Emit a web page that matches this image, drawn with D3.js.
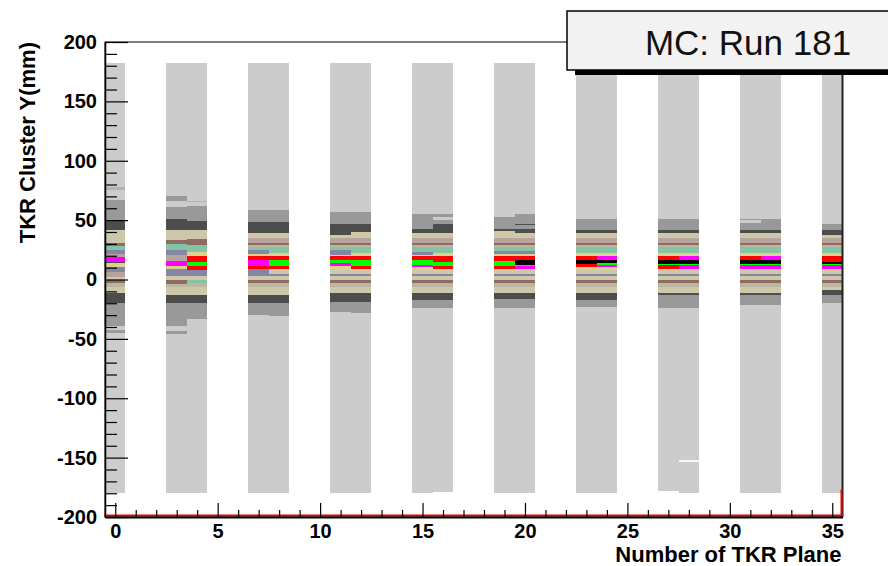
<!DOCTYPE html>
<html>
<head>
<meta charset="utf-8">
<script src="https://cdn.jsdelivr.net/npm/d3@7"></script>
<style>
  html, body { margin: 0; padding: 0; background: #fff; }
  svg { display: block; font-family: "Liberation Sans", Arial, Helvetica, sans-serif; }
  .axis .tick text { font-weight: bold; font-size: 20px; fill: #000; }
  .axis .tick line, .axis path { stroke: #000; }
</style>
</head>
<body>
<div id="chart"></div>
<script>
// TKR cluster Y vs TKR plane number, MC run 181.
// 2D histogram drawn ROOT "colz" style: each plane is one x bin,
// bands of y carry an entry count that maps to a palette colour.

const planes = [0, 3, 4, 7, 8, 11, 12, 15, 16, 19, 20, 23, 24, 27, 28, 31, 32, 35];

// low-count coverage of each plane (mm)
const coverLo = [-180, -180, -180, -180, -180, -180, -180, -180, -179, -180, -180, -180, -180, -178, -180, -180, -180, -180];
const coverHi = [182, 182, 182, 182, 182, 182, 182, 182, 182, 182, 182, 182, 182, 182, 182, 182, 182, 182];
// mid gray halo
const grayLo = [-45, -46, -33, -30, -31, -27, -28, -24, -24, -24, -24, -23, -23, -24, -24, -21.5, -21.5, -20];
const grayHi = [67, 70, 62, 58.5, 58.5, 57, 57, 55, 55, 55, 55, 50.7, 50.7, 50.7, 50.7, 51, 51, 46.5];
// dark gray shoulder
const darkLo = [-20, -20, -20, -20, -20, -18.7, -18.7, -17.3, -17.3, -16.7, -16.7, -17.3, -17.3, -13, -13, -13, -13, -13];
const darkHi = [50, 50.7, 49.6, 48.6, 48.7, 46.6, 46.6, 42.3, 46.6, 42.3, 42.3, 41.7, 41.7, 41.7, 41.7, 41.7, 41.7, 41.7];

const coverCount = 25;
const grayCount = 45;
const darkCount = 55;

// central band structure common to the planes: [yLow, yHigh, counts]
const coreBands = [
  [-11.6, -6.6, 65],
  [-6.6, -3.2, 75],
  [-3.2, -0.4, 95],
  [-0.4, 3.0, 65],
  [3.0, 4.6, 115],
  [4.6, 8.3, 65],
  [8.3, 10.5, 125],
  [10.5, 20.0, 135],
  [20.0, 22.7, 125],
  [22.7, 27.6, 105],
  [27.6, 29.1, 75],
  [29.1, 30.5, 95],
  [30.5, 34.7, 85],
  [34.7, 38.9, 65]
];

// plane specific bands, same order as planes
const planeBands = [
  // 0
  [[75.4, 77.6, 35], [-42.3, -39.5, 25], [30.5, 41.7, 65], [28.2, 30.5, 95], [24.8, 28.2, 105], [21.4, 24.8, 115],
   [18.7, 21.4, 85], [15, 18.7, 145], [13.6, 15, 55], [10.2, 13.6, 125], [5.9, 10.2, 115], [1.7, 5.9, 85]],
  // 3
  [[61.3, 66.3, 25], [33.3, 41.7, 65], [29.9, 33.3, 95], [24.8, 29.9, 105], [20.6, 24.8, 115], [15.6, 20.6, 85],
   [11.4, 15.6, 145], [8.6, 11.4, 125], [3.8, 8.6, 115], [-3.8, -0.4, 95], [-13, -11.6, 65], [-43.7, -39.5, 25]],
  // 4
  [[64.9, 66.3, 35], [33.8, 41.7, 65], [29, 33.8, 95], [23.4, 29, 105], [19.8, 23.4, 125], [15, 19.8, 135],
   [11.4, 15, 155], [8, 11.4, 135], [3.8, 8, 115], [-3.2, -0.4, 105], [-13, -11.6, 65]],
  // 7
  [[21.4, 24.8, 115], [16.4, 19.8, 135], [11.4, 16.4, 145], [8.6, 11.4, 135], [3.8, 8.6, 115], [-13, -11.6, 65]],
  // 8
  [[16.4, 19.8, 135], [11.4, 16.4, 155], [8.6, 11.4, 135], [-13, -11.6, 65]],
  // 11
  [[37.7, 38.9, 55], [20.6, 24.8, 115], [16.4, 19.2, 135], [13.6, 16.4, 155], [11.4, 13.6, 145], [8, 11.4, 125]],
  // 12
  [[38.9, 39.7, 65], [16.4, 19.2, 135], [11.4, 16.4, 155], [8.7, 11.4, 135]],
  // 15
  [[20.6, 23.4, 115], [16.4, 19.8, 135], [12.2, 16.4, 155], [10.2, 12.2, 145]],
  // 16
  [[50.1, 52.9, 25], [15, 19.8, 135], [11.4, 15, 155], [8.6, 11.4, 135]],
  // 19
  [[52.9, 54.9, 25], [38.9, 41.2, 65], [21.4, 24.4, 115], [15.3, 19.8, 135], [11.4, 15.3, 155], [8.6, 11.4, 135]],
  // 20
  [[45.5, 46.6, 55], [21.4, 24.4, 115], [16.4, 19.8, 135], [12.5, 16.4, 165], [11.4, 12.5, 155], [8.6, 11.4, 145]],
  // 23
  [[16.7, 19.6, 135], [12.8, 16.7, 165], [10.5, 12.8, 135]],
  // 24
  [[16.4, 19.6, 145], [13.6, 16.4, 165], [12.2, 13.6, 155], [10.5, 12.2, 145]],
  // 27
  [[16.4, 19.8, 135], [13, 16.4, 165], [11.9, 13, 155], [8.6, 11.9, 135]],
  // 28
  [[-153.5, -152, 5], [16.4, 19.8, 145], [13, 16.4, 165], [11.9, 13, 155], [8.6, 11.9, 145]],
  // 31
  [[47.5, 50.5, 25], [16.4, 19.8, 135], [13, 16.4, 165], [11.9, 13, 155], [8.6, 11.9, 145]],
  // 32
  [[16.4, 19.8, 145], [13, 16.4, 165], [11.9, 13, 155], [8.6, 11.9, 145]],
  // 35
  [[37.5, 38.9, 55], [15, 19.8, 135], [13, 15, 165], [11.9, 13, 155], [8.6, 11.9, 145], [-11.6, -8.8, 55]]
];

// red outline along the bottom and last bin
const redLine = [[-0.5, -200], [35.5, -200], [35.5, -178]];

const xMajor = [0, 5, 10, 15, 20, 25, 30, 35];
const xMinor = [1, 2, 3, 4, 6, 7, 8, 9, 11, 12, 13, 14, 16, 17, 18, 19, 21, 22, 23, 24, 26, 27, 28, 29, 31, 32, 33, 34];
const yMajor = [-200, -150, -100, -50, 0, 50, 100, 150, 200];
const yMinor = [-190, -180, -170, -160, -140, -130, -120, -110, -90, -80, -70, -60, -40, -30, -20, -10,
  10, 20, 30, 40, 60, 70, 80, 90, 110, 120, 130, 140, 160, 170, 180, 190];

const palette = ['#f6f6f6', '#e4e4e4', '#cccccc', '#b4b4b4', '#999999', '#4d4d4d', '#cdc8aa', '#bcb59f',
  '#b8a49c', '#8e6c61', '#84c3a4', '#8585a5', '#dad28e', '#ff0000', '#ff00ff', '#00ff00', '#000000'];

const W = 888, H = 566;
const x = d3.scaleLinear().domain([-0.5, 35.5]).range([105, 842.5]);
const y = d3.scaleLinear().domain([-200, 200]).range([517, 42]);
const color = d3.scaleQuantize().domain([0, 170]).range(palette);

const svg = d3.select('#chart').append('svg').attr('width', W).attr('height', H);

// flatten all bands into cells
const cells = [];
planes.forEach((p, i) => {
  cells.push({ p, y0: coverLo[i], y1: coverHi[i], c: coverCount });
  cells.push({ p, y0: grayLo[i], y1: grayHi[i], c: grayCount });
  cells.push({ p, y0: darkLo[i], y1: darkHi[i], c: darkCount });
  coreBands.forEach((b) => cells.push({ p, y0: b[0], y1: b[1], c: b[2] }));
  planeBands[i].forEach((b) => cells.push({ p, y0: b[0], y1: b[1], c: b[2] }));
});

svg.append('g')
  .attr('shape-rendering', 'crispEdges')
  .selectAll('rect')
  .data(cells)
  .join('rect')
  .attr('x', (d) => x(d.p - 0.5))
  .attr('width', (d) => x(d.p + 0.5) - x(d.p - 0.5))
  .attr('y', (d) => y(d.y1))
  .attr('height', (d) => y(d.y0) - y(d.y1))
  .attr('fill', (d) => color(d.c));

// frame
const [x0, x1] = x.range();
const [yb, yt] = y.range();
svg.append('rect')
  .attr('x', x0).attr('y', yt)
  .attr('width', x1 - x0).attr('height', yb - yt)
  .attr('fill', 'none').attr('stroke', '#000').attr('stroke-width', 1);
svg.append('line')
  .attr('x1', x1).attr('x2', x1).attr('y1', yt).attr('y2', yb)
  .attr('stroke', '#222').attr('stroke-width', 2);

// red outline
svg.append('path')
  .datum(redLine)
  .attr('d', d3.line().x((d) => x(d[0])).y((d) => y(d[1])))
  .attr('transform', 'translate(-1,-1.5)')
  .attr('fill', 'none')
  .attr('stroke', '#ee0000')
  .attr('stroke-width', 2);

// axes, ticks pointing inside
const fmt = (d) => String(d);
svg.append('g').attr('class', 'axis').attr('transform', `translate(${x0},0)`)
  .call(d3.axisLeft(y).tickValues(yMinor).tickSizeInner(-12).tickSizeOuter(0).tickFormat(''))
  .call((g) => g.select('.domain').remove());
svg.append('g').attr('class', 'axis').attr('transform', `translate(${x0},0)`)
  .call(d3.axisLeft(y).tickValues(yMajor).tickSizeInner(-23).tickSizeOuter(0).tickPadding(8).tickFormat(fmt))
  .call((g) => g.select('.domain').attr('stroke-width', 1.5));

svg.append('g').attr('class', 'axis').attr('transform', `translate(0,${yb})`)
  .call(d3.axisBottom(x).tickValues(xMinor).tickSizeInner(-7).tickSizeOuter(0).tickFormat(''))
  .call((g) => g.select('.domain').remove());
svg.append('g').attr('class', 'axis').attr('transform', `translate(0,${yb})`)
  .call(d3.axisBottom(x).tickValues(xMajor).tickSizeInner(-14).tickSizeOuter(0).tickPadding(7).tickFormat(fmt))
  .call((g) => g.select('.domain').attr('stroke-width', 2));

svg.selectAll('.axis .tick line').attr('stroke-width', 1.2);

// axis titles
svg.append('text')
  .attr('x', x1 - 1)
  .attr('y', 562)
  .attr('text-anchor', 'end')
  .attr('font-weight', 'bold')
  .attr('font-size', 22)
  .text('Number of TKR Plane');

svg.append('text')
  .attr('transform', `translate(35,${yt}) rotate(-90)`)
  .attr('text-anchor', 'end')
  .attr('font-weight', 'bold')
  .attr('font-size', 22)
  .text('TKR Cluster Y(mm)');

// title box with shadow
svg.append('rect')
  .attr('x', 575).attr('y', 16)
  .attr('width', 360).attr('height', 59)
  .attr('fill', '#000');
svg.append('rect')
  .attr('x', 567).attr('y', 11)
  .attr('width', 362).attr('height', 59)
  .attr('fill', '#f2f2f2')
  .attr('stroke', '#000')
  .attr('stroke-width', 1.5);
svg.append('text')
  .attr('x', 748)
  .attr('y', 55)
  .attr('text-anchor', 'middle')
  .attr('font-size', 35)
  .attr('fill', '#111')
  .text('MC: Run 181');
</script>
</body>
</html>
